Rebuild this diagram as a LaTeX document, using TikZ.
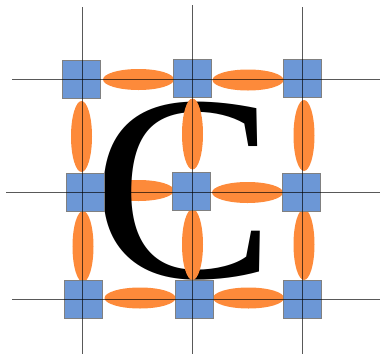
\documentclass[tikz,border=0pt]{standalone}
\usepackage{fontspec}
\newfontfamily\letterfont{Liberation Serif}
\usetikzlibrary{shapes.geometric}
\definecolor{spinblue}{RGB}{108,151,214}
\definecolor{bondorange}{RGB}{253,138,58}
\definecolor{edgegray}{RGB}{128,128,128}
\tikzset{
  spin/.style={draw=edgegray, fill=spinblue, line width=0.8bp, minimum size=38bp, inner sep=0pt},
  hbond/.style={ellipse, fill=bondorange, minimum width=71bp, minimum height=21bp, inner sep=0pt},
  vbond/.style={ellipse, fill=bondorange, minimum width=21bp, minimum height=71bp, inner sep=0pt},
  grid line/.style={black, opacity=0.65, line width=1bp}
}
\begin{document}
\begin{tikzpicture}[x=1bp, y=-1bp]
    \useasboundingbox (0,0) rectangle (380,354);

    % Bond under the letter
    \node[hbond] (h10) at (138.5,190.5) {};

    % Letter
    \node[inner sep=0pt, font=\letterfont\fontsize{266}{266}\selectfont] (letter) at (184,191) {\scalebox{1.035}[1]{C}};

    % Horizontal bonds
    \foreach \n/\x/\y in {h00/138.5/79.5, h01/248/80,
                          h11/247.5/192.5,
                          h20/140/298, h21/248.5/298} {
        \node[hbond] (\n) at (\x,\y) {};
    }

    % Vertical bonds
    \foreach \n/\x/\y in {v00/81.5/136.5, v01/192.5/134, v02/304/135.5,
                          v10/83/246.5, v11/192.5/244.5, v12/304/244.5} {
        \node[vbond] (\n) at (\x,\y) {};
    }

    % Spins
    \foreach \n/\x/\y in {s00/81.5/79.5, s01/192.5/78, s02/302/78.5,
                          s10/85/192.5, s11/191.5/191, s12/301.5/192.5,
                          s20/83.5/299.5, s21/194/299, s22/302/299} {
        \node[spin] (\n) at (\x,\y) {};
    }

    % Grid lines
    \foreach \i/\x/\t in {0/82/7, 1/192/5, 2/302/7} {
        \coordinate (t\i) at (\x,\t);
        \coordinate (b\i) at (\x,354);
    }
    \foreach \i/\y/\l in {0/79/12, 1/192/6, 2/299/12} {
        \coordinate (l\i) at (\l,\y);
        \coordinate (r\i) at (380,\y);
    }
    \foreach \i in {0,1,2} {
        \draw[grid line] (t\i) -- (b\i);
        \draw[grid line] (l\i) -- (r\i);
    }
\end{tikzpicture}
\end{document}
